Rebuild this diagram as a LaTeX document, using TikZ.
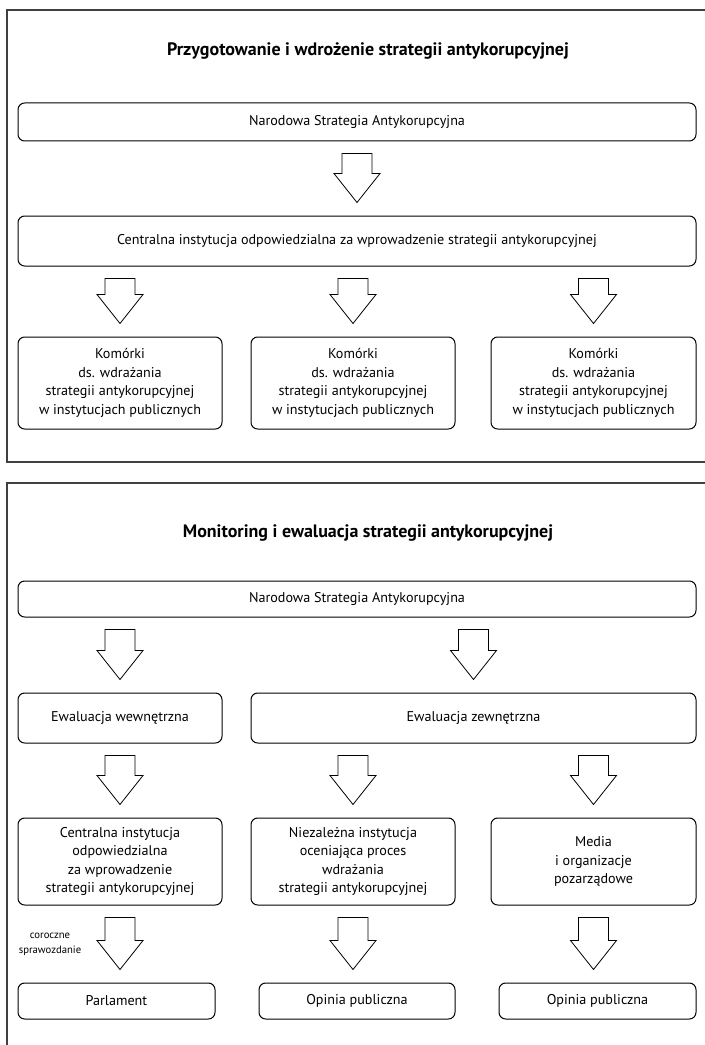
\documentclass[tikz,border=0pt]{standalone}
\usepackage{fontspec}
\setmainfont{PT Sans}
\usetikzlibrary{calc}
\tikzset{
  box/.style={draw, line width=0.75pt, rounded corners=5pt, align=center, inner sep=0pt,
    font=\fontsize{10.6}{13.9}\selectfont},
  paneltitle/.style={font=\bfseries\fontsize{13.5}{16}\selectfont, inner sep=0pt},
  smalllabel/.style={font=\fontsize{8}{11.2}\selectfont, align=center, inner sep=0pt},
  panelframe/.style={draw=black!75, line width=0.8pt},
  blockarrow/.style={draw, line width=0.6pt, fill=white, line join=miter}
}
\newcommand\boxat[6]{%
  \node[box, minimum width={(#4-#2)*0.75pt}, minimum height={(#5-#3)*0.75pt}]
    (#1) at ({(#2+#4)/2},{(#3+#5)/2}) {#6};}
% block arrow from node #1 to node #2, centred on x of node #3
\newcommand\barrow[3]{%
  \path[blockarrow] let \p1=(#1.south), \p2=(#2.north), \p3=(#3.center) in
    (\x3-11.25pt,\y1-9pt) -- (\x3-11.25pt,\y2+31.5pt) -- (\x3-17.25pt,\y2+31.5pt)
    -- (\x3,\y2+9.75pt) -- (\x3+17.25pt,\y2+31.5pt) -- (\x3+11.25pt,\y2+31.5pt)
    -- (\x3+11.25pt,\y1-9pt) -- cycle;}
\begin{document}
\begin{tikzpicture}[x=0.75pt,y=-0.75pt]
\useasboundingbox (0,0) rectangle (705,1045);
% panel frames
\draw[panelframe] (712,10) -- (7,10) -- (7,462) -- (712,462);
\draw[panelframe] (712,483) -- (7,483) -- (7,1050);

% ---- panel 1
\node[paneltitle] (t1) at (368,51) {Przygotowanie i wdrożenie strategii antykorupcyjnej};
\boxat{a1}{18}{103}{696}{141}{Narodowa Strategia Antykorupcyjna}
\boxat{b1}{18}{216}{696}{266}{Centralna instytucja odpowiedzialna za wprowadzenie strategii antykorupcyjnej}
\boxat{c1}{18}{337}{222}{429}{Komórki\\ds. wdrażania\\strategii antykorupcyjnej\\w instytucjach publicznych}
\boxat{c2}{251}{337}{455}{429}{Komórki\\ds. wdrażania\\strategii antykorupcyjnej\\w instytucjach publicznych}
\boxat{c3}{491}{337}{696}{429}{Komórki\\ds. wdrażania\\strategii antykorupcyjnej\\w instytucjach publicznych}
\barrow{a1}{b1}{a1}
\barrow{b1}{c1}{c1}
\barrow{b1}{c2}{c2}
\barrow{b1}{c3}{c3}

% ---- panel 2
\node[paneltitle] (t2) at (368,533) {Monitoring i ewaluacja strategii antykorupcyjnej};
\boxat{a2}{18}{581}{696}{617}{Narodowa Strategia Antykorupcyjna}
\boxat{e1}{18}{693}{222}{743}{Ewaluacja wewnętrzna}
\boxat{e2}{251}{693}{696}{743}{Ewaluacja zewnętrzna}
\boxat{d1}{18}{818}{222}{905}{Centralna instytucja\\odpowiedzialna\\za wprowadzenie\\strategii antykorupcyjnej}
\boxat{d2}{251}{818}{455}{905}{Niezależna instytucja\\oceniająca proces\\wdrażania\\strategii antykorupcyjnej}
\boxat{d3}{491}{818}{696}{905}{Media\\i organizacje\\pozarządowe}
\boxat{f1}{18}{983}{215}{1019}{Parlament}
\boxat{f2}{259}{983}{455}{1019}{Opinia publiczna}
\boxat{f3}{499}{983}{696}{1019}{Opinia publiczna}
\barrow{a2}{e1}{e1}
\barrow{a2}{e2}{e2}
\barrow{e1}{d1}{d1}
\barrow{e2}{d2}{d2}
\barrow{e2}{d3}{d3}
\barrow{d1}{f1}{d1}
\barrow{d2}{f2}{d2}
\barrow{d3}{f3}{d3}
\node[smalllabel] (lab) at (50,944) {coroczne\\sprawozdanie};
\end{tikzpicture}
\end{document}
